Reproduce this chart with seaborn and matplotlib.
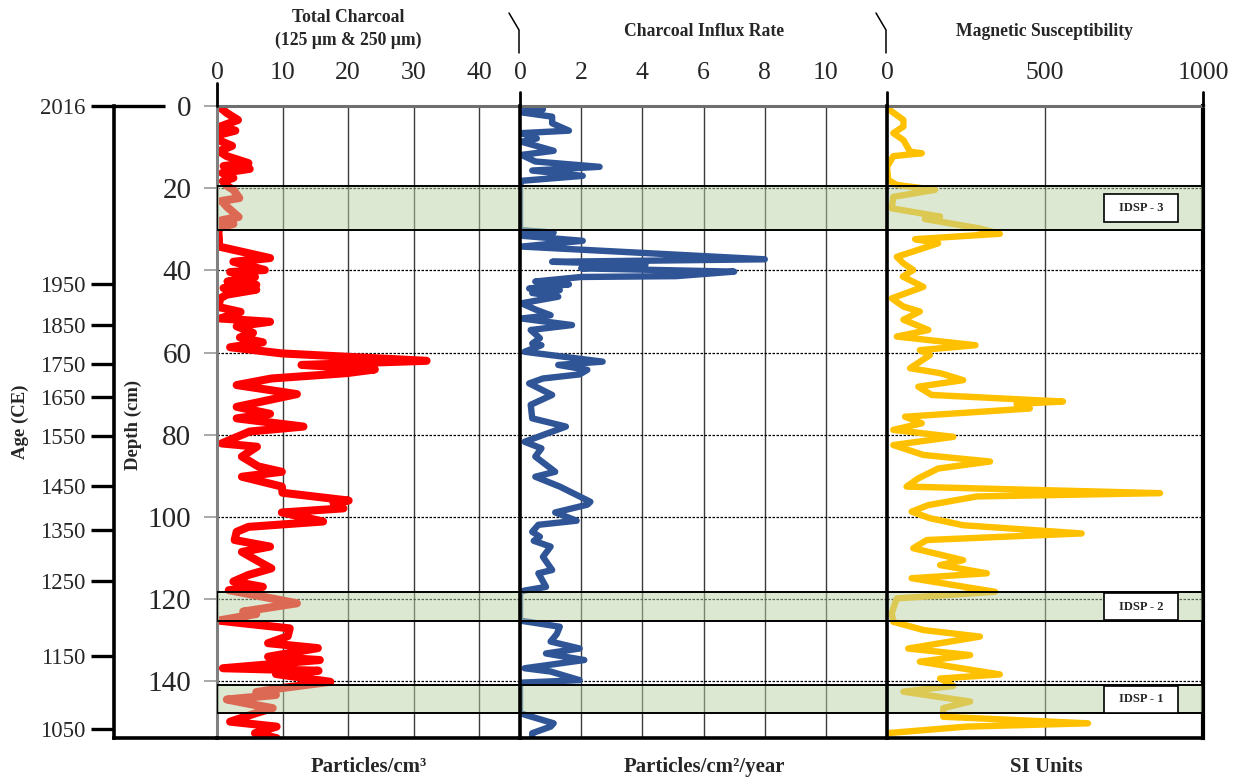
import matplotlib
matplotlib.use("Agg")
import matplotlib.pyplot as plt
from matplotlib.lines import Line2D
from matplotlib.patches import Rectangle
import seaborn as sns

# ---------------- data ----------------
# Total charcoal (particles/cm3) against depth (cm)
charcoal_depth = [0.0, 1.7, 3.4, 5.0, 6.0, 7.0, 8.3, 9.7, 11.0, 12.2, 13.9, 14.6, 15.3, 16.3,
                  17.5, 18.3, 19.4, 20.4, 22.4, 23.1, 24.5, 27.0, 27.8, 28.7, 29.5, 30.5, 32.5,
                  34.2, 37.0, 37.9, 39.9, 40.4, 41.6, 42.7, 43.5, 44.3, 44.7, 45.9, 46.8, 48.9,
                  50.1, 51.7, 52.5, 53.6, 55.2, 56.3, 57.5, 58.7, 60.2, 62.0, 63.0, 64.1, 65.0,
                  66.3, 67.9, 70.1, 73.2, 74.9, 76.0, 78.0, 79.2, 82.1, 82.9, 85.3, 87.7, 89.0,
                  90.2, 92.6, 94.1, 96.0, 96.6, 97.9, 98.9, 101.1, 102.4, 103.6, 105.6, 107.2,
                  108.5, 110.5, 112.5, 114.1, 115.7, 117.0, 117.8, 121.0, 123.0, 123.6, 125.2,
                  127.1, 129.0, 130.7, 131.9, 134.0, 134.8, 136.8, 137.4, 138.2, 140.1, 141.6,
                  142.6, 143.3, 144.4, 145.5, 146.5, 147.7, 149.8, 151.0, 152.6, 153.8]
charcoal_total = [0.2, 1.5, 3.2, 0.5, 2.8, 0.3, 0.2, 2.3, 0.3, 1.5, 4.8, 1.0, 5.0, 0.8,
                  2.5, 0.9, 1.5, 2.5, 3.4, 0.7, 1.5, 3.3, 0.7, 2.5, 0.5, 0.2, 0.3,
                  0.3, 8.1, 2.5, 7.3, 2.0, 5.8, 1.6, 6.0, 1.0, 6.0, 1.5, 0.5, 0.2,
                  3.6, 0.5, 8.1, 3.0, 5.5, 3.5, 7.0, 2.0, 9.9, 32.0, 12.9, 24.1, 19.8,
                  8.3, 3.0, 12.2, 3.0, 8.1, 3.0, 13.2, 5.0, 0.7, 6.1, 3.8, 6.3, 9.9,
                  3.8, 9.9, 10.0, 20.1, 17.8, 19.3, 9.9, 16.2, 4.8, 3.0, 2.7, 8.1,
                  3.8, 6.0, 8.3, 4.8, 2.5, 7.0, 1.8, 12.2, 4.0, 6.0, 0.2,
                  11.1, 10.8, 7.8, 15.4, 7.8, 15.7, 0.9, 15.5, 9.0, 17.3, 10.0,
                  6.0, 9.0, 1.5, 5.0, 8.5, 6.0, 2.0, 9.1, 5.8, 9.1]

# Charcoal influx rate (particles/cm2/year)
influx_depth = [0.0, 0.8, 1.6, 2.6, 4.2, 6.0, 6.6, 7.9, 8.7, 10.9, 11.9, 13.5, 14.8, 15.7,
                17.0, 18.2, 19.4, 30.2, 30.8, 31.6, 32.8, 34.2, 37.3, 37.9, 38.6, 39.5, 40.3,
                41.4, 41.6, 42.7, 43.4, 44.4, 44.8, 45.5, 46.4, 48.0, 49.5, 50.9, 51.7, 53.3,
                54.5, 56.5, 57.8, 58.2, 59.8, 62.2, 63.0, 64.2, 65.3, 66.3, 67.5, 70.3, 72.7,
                76.0, 78.0, 81.7, 83.3, 85.3, 89.0, 90.2, 92.6, 96.3, 97.0, 98.9, 100.9, 101.9,
                103.6, 104.8, 105.8, 107.2, 109.7, 112.9, 113.7, 115.0, 117.0, 117.9, 118.3,
                125.2, 126.7, 128.5, 130.3, 132.0, 133.2, 134.8, 136.8, 137.6, 139.7, 140.3,
                140.9, 147.7, 148.2, 150.2, 151.0, 152.6, 153.8]
influx_rate = [0.05, 0.75, 0.1, 1.05, 1.05, 1.6, 0.05, 0.55, 0.05, 1.1, 0.05, 0.5, 2.6, 0.4,
               2.05, 0.05, 0.0, 0.0, 1.1, 0.1, 2.05, 0.05, 8.0, 1.05, 4.1, 2.0, 7.0,
               5.1, 2.0, 0.5, 1.6, 0.3, 1.3, 0.4, 1.25, 0.05, 0.5, 1.0, 0.05, 1.7,
               0.35, 0.65, 0.4, 0.7, 0.15, 2.7, 1.25, 2.2, 1.95, 0.75, 0.3, 1.05, 0.35,
               0.4, 1.5, 0.15, 0.7, 0.5, 1.15, 0.5, 1.3, 2.3, 2.2, 1.15, 1.85, 0.6,
               0.4, 0.65, 0.45, 1.0, 0.75, 1.05, 0.6, 0.7, 0.85, 0.15, 0.0,
               0.0, 1.3, 1.2, 1.0, 1.95, 0.85, 2.1, 0.15, 1.0, 1.95, 0.05,
               0.0, 0.0, 0.2, 1.1, 1.0, 0.4, 0.4]

# Magnetic susceptibility (SI units)
magsus_depth = [0.5, 3.4, 5.0, 6.6, 8.3, 11.1, 11.5, 12.2, 14.8, 18.0, 19.2, 20.4, 22.1, 24.9,
                26.9, 27.5, 29.8, 31.1, 31.6, 32.4, 33.4, 36.7, 38.3, 39.9, 41.5, 44.0, 46.8,
                48.8, 50.0, 52.0, 54.5, 56.1, 58.2, 59.4, 60.6, 63.8, 65.0, 66.7, 68.3, 70.3,
                71.9, 72.5, 73.6, 75.6, 77.2, 78.8, 80.5, 82.5, 84.9, 86.5, 88.2, 90.6, 92.6,
                94.2, 95.0, 97.1, 98.7, 100.3, 102.0, 104.0, 105.6, 107.6, 110.5, 111.7, 113.7,
                114.9, 118.2, 119.8, 123.4, 125.5, 127.5, 129.1, 132.0, 133.6, 135.2, 138.3,
                139.3, 141.1, 142.5, 144.9, 146.5, 148.6, 150.2, 151.0, 152.6]
magsus_si = [0, 52, 52, 20, 52, 73, 110, 20, 0, 4, 31, 152, 20, 15,
             168, 120, 294, 357, 252, 89, 162, 31, 52, 83, 50, 115, 15,
             52, 104, 52, 131, 31, 280, 104, 136, 73, 168, 241, 99, 141,
             557, 410, 452, 57, 110, 20, 210, 20, 115, 326, 162, 99, 62,
             864, 284, 131, 78, 136, 241, 616, 126, 83, 241, 168, 316,
             78, 342, 31, 15, 20, 115, 294, 67, 263, 104, 357,
             168, 210, 52, 263, 178, 178, 636, 252, 0]

# Age-depth scale (years CE at depth in cm)
age_labels = ["2016", "1950", "1850", "1750", "1650", "1550", "1450", "1350", "1250", "1150", "1050"]
age_depths = [0.0, 43.4, 53.2, 62.8, 70.8, 80.3, 92.5, 103.2, 115.6, 133.7, 151.7]

# Zones (top, bottom depth in cm) and their labels
zone_names = ["IDSP - 3", "IDSP - 2", "IDSP - 1"]
zone_tops = [19.4, 118.3, 140.9]
zone_bottoms = [30.2, 125.2, 147.7]
label_tops = [21.4, 118.5, 141.1]
label_bottoms = [28.2, 125.1, 147.6]

depth_ticks = [0, 20, 40, 60, 80, 100, 120, 140]
charcoal_ticks = [0, 10, 20, 30, 40]
influx_ticks = [0, 2, 4, 6, 8, 10]
magsus_ticks = [0, 500, 1000]

# ---------------- style ----------------
sns.set_style("white")
plt.rcParams["font.family"] = ["Liberation Serif", "DejaVu Serif"]

W, H = 1243, 779
fig = plt.figure(figsize=(W / 100, H / 100), dpi=100)


def fx(px):
    return px / W


def fy(py):
    return 1 - py / H


TOP, BOT = 106, 738
DEPTH_MAX = (BOT - TOP) / 4.11
ZONE_FACE = (187 / 255, 211 / 255, 167 / 255, 0.5)


def add_panel(x0, x1):
    return fig.add_axes([fx(x0), fy(BOT), (x1 - x0) / W, (BOT - TOP) / H])


ax1 = add_panel(217, 520)
ax2 = add_panel(520, 887)
ax3 = add_panel(887, 1203)

panels = [
    (ax1, charcoal_total, charcoal_depth, "#ff0000", 5.8, charcoal_ticks, (0, 303 / 6.55)),
    (ax2, influx_rate, influx_depth, "#2f5597", 4.6, influx_ticks, (0, 367 / 30.6)),
    (ax3, magsus_si, magsus_depth, "#ffc000", 4.6, magsus_ticks, (0, 1000)),
]

for ax, vals, depth, col, lw, ticks, xlim in panels:
    sns.lineplot(x=vals, y=depth, sort=False, estimator=None, ax=ax, color=col,
                 linewidth=lw, zorder=2, solid_joinstyle="round", solid_capstyle="round")
    ax.set_xlim(*xlim)
    ax.set_ylim(DEPTH_MAX, 0)
    ax.set_xlabel("")
    ax.set_ylabel("")
    ax.set_facecolor("none")
    ax.xaxis.tick_top()
    ax.set_xticks(ticks)
    ax.set_xticklabels([str(t) for t in ticks])
    ax.tick_params(axis="x", top=True, bottom=False, length=0, pad=16, labelsize=18.5)
    # vertical grid
    for t in ticks[1:]:
        if t < xlim[1] - 1e-6:
            ax.axvline(t, color="#3a3a3a", lw=1.0, zorder=1)
    # dotted depth grid
    for d in depth_ticks[1:]:
        ax.axhline(d, color="black", lw=0.9, ls=(0, (2, 1.2)), zorder=1)
    # zones
    for z0, z1 in zip(zone_tops, zone_bottoms):
        ax.axhspan(z0, z1, facecolor=ZONE_FACE, edgecolor="black", lw=1.4, zorder=4)
    for s in ax.spines.values():
        s.set_visible(False)
    ax.spines["top"].set_visible(True)
    ax.spines["top"].set_color("#6e6e6e")
    ax.spines["top"].set_linewidth(2.2)
    ax.spines["bottom"].set_visible(True)
    ax.spines["bottom"].set_color("black")
    ax.spines["bottom"].set_linewidth(2.6)

# left spines / frames
ax1.spines["left"].set_visible(True)
ax1.spines["left"].set_color("#808080")
ax1.spines["left"].set_linewidth(2.2)
for ax in (ax2, ax3):
    ax.spines["left"].set_visible(True)
    ax.spines["left"].set_color("black")
    ax.spines["left"].set_linewidth(2.6)
    ax.spines["left"].set_zorder(5)
ax3.spines["right"].set_visible(True)
ax3.spines["right"].set_color("black")
ax3.spines["right"].set_linewidth(3.0)

# depth axis on the first panel
ax1.set_yticks(depth_ticks)
ax1.set_yticklabels([str(d) for d in depth_ticks])
ax1.tick_params(axis="y", left=True, length=9.5, width=1.2, color="#9a9a9a", pad=9, labelsize=21)
for ax in (ax2, ax3):
    ax.set_yticks([])

# zone labels
for name, t0, t1 in zip(zone_names, label_tops, label_bottoms):
    ax3.add_patch(Rectangle((687, t0), 921 - 687, t1 - t0, facecolor="white",
                            edgecolor="black", lw=1.2, zorder=6))
    ax3.text(804, (t0 + t1) / 2, name, ha="center", va="center", fontsize=9,
             fontweight="bold", zorder=7)

# age axis
ax_age = fig.add_axes([fx(114), fy(BOT), (217 - 114) / W, (BOT - TOP) / H])
ax_age.set_ylim(DEPTH_MAX, 0)
ax_age.set_xlim(0, 1)
ax_age.set_facecolor("none")
for s in ax_age.spines.values():
    s.set_visible(False)
for side in ("left", "bottom"):
    ax_age.spines[side].set_visible(True)
    ax_age.spines[side].set_color("black")
    ax_age.spines[side].set_linewidth(2.6)
ax_age.set_xticks([])
ax_age.set_yticks(age_depths)
ax_age.set_yticklabels(age_labels)
ax_age.tick_params(axis="y", left=True, length=16.5, width=2.4, color="black", pad=4, labelsize=16.5)
ax_age.plot([0, (165 - 114) / 103], [0, 0], color="black", lw=2.4, clip_on=False,
            solid_capstyle="butt")

# axis titles
fig.text(fx(20), fy(422), "Age (CE)", rotation=90, ha="center", va="center",
         fontsize=13.5, fontweight="bold")
fig.text(fx(133), fy(425), "Depth (cm)", rotation=90, ha="center", va="center",
         fontsize=13.5, fontweight="bold")

fig.text(fx(348), fy(18), "Total Charcoal", ha="center", va="center", fontsize=12.7,
         fontweight="bold")
fig.text(fx(348), fy(40), "(125 µm & 250 µm)", ha="center", va="center", fontsize=12.7,
         fontweight="bold")
fig.text(fx(704), fy(31), "Charcoal Influx Rate", ha="center", va="center", fontsize=12.7,
         fontweight="bold")
fig.text(fx(1045), fy(31), "Magnetic Susceptibility", ha="center", va="center",
         fontsize=12.7, fontweight="bold")

fig.text(fx(369), fy(767), "Particles/cm³", ha="center", va="center", fontsize=15,
         fontweight="bold")
fig.text(fx(704), fy(767), "Particles/cm²/year", ha="center", va="center", fontsize=15,
         fontweight="bold")
fig.text(fx(1046), fy(767), "SI Units", ha="center", va="center", fontsize=15,
         fontweight="bold")

# short ticks above each panel edge and the bracket marks between titles
for x, ytop in ((217, 83), (520, 92), (887, 92), (1203, 92)):
    fig.add_artist(Line2D([fx(x), fx(x)], [fy(ytop), fy(TOP)], color="black", lw=2.0,
                          transform=fig.transFigure))
for x in (520, 887):
    fig.add_artist(Line2D([fx(x - 11), fx(x - 1), fx(x - 1)], [fy(13), fy(30), fy(53)],
                          color="black", lw=1.1, transform=fig.transFigure))

fig.savefig("out.png", dpi=100)
